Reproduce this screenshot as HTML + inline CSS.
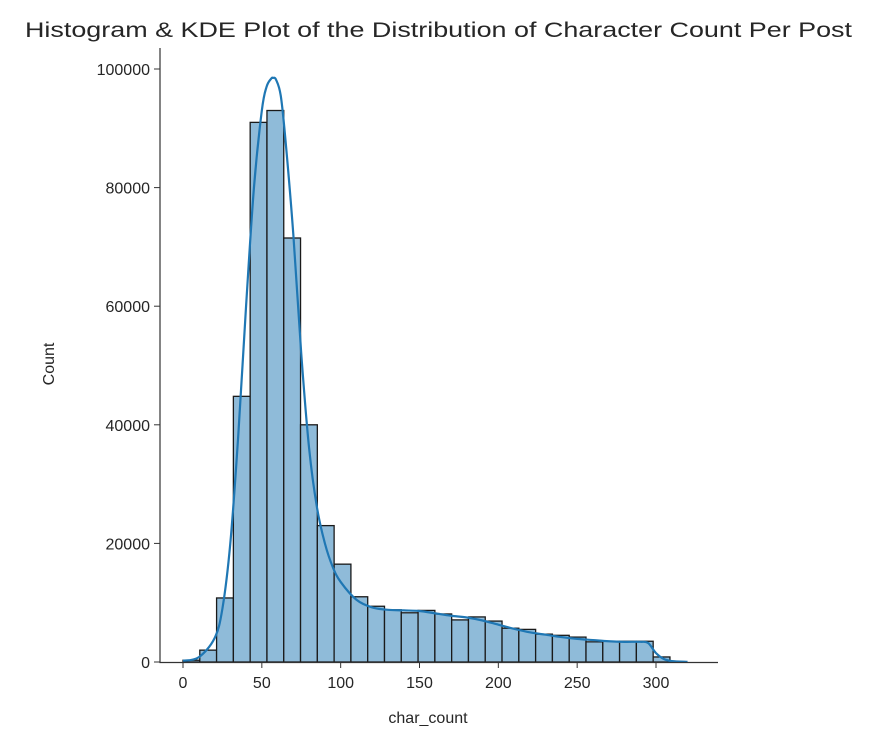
<!DOCTYPE html>
<html><head><meta charset="utf-8"><style>
body{margin:0;background:#fff;width:882px;height:748px;overflow:hidden}
text{font-family:"Liberation Sans","DejaVu Sans",sans-serif;fill:#262626}
</style></head><body>
<svg id="chart" width="882" height="748" xmlns="http://www.w3.org/2000/svg">
<text x="25" y="37" font-size="21" textLength="827" lengthAdjust="spacingAndGlyphs">Histogram &amp; KDE Plot of the Distribution of Character Count Per Post</text>
<g id="bars"></g><g id="kde"></g><g id="axes"></g>
<text x="428" y="723" text-anchor="middle" font-size="16">char_count</text>
<text transform="translate(54,364) rotate(-90)" text-anchor="middle" font-size="16">Count</text>
</svg>
<script>
const binStart = 0;
const binWidth = 10.65;
const counts = [300,2000,10800,44800,91000,93000,71500,40000,23000,16500,11000,9400,8800,8300,8700,8100,7100,7600,6900,5700,5500,4700,4500,4200,3400,3500,3500,3500,850];
const kdeX = [0,10,20,25,30,35,40,45,50,53,56,57,59,62,65,70,75,80,85,90,95,100,110,120,130,140,150,160,170,180,190,200,210,220,230,240,250,260,270,280,290,295,300,305,310,320];
const kdeY = [200,800,4000,9000,20000,38000,60000,80000,93000,97000,98400,98500,98200,95500,88000,72000,52000,36000,26000,20000,16000,13500,10500,9200,8800,8700,8600,8200,7800,7500,7000,6300,5600,5000,4600,4200,3900,3700,3500,3400,3400,3200,1500,500,150,20];
const xTicks = [0,50,100,150,200,250,300];
const yTicks = [0,20000,40000,60000,80000,100000];
const NS="http://www.w3.org/2000/svg";
const X=v=>183+v*(473/300);
const Y=v=>662-v*(593/100000);
function mk(tag,parent){const e=document.createElementNS(NS,tag);document.getElementById(parent).appendChild(e);return e;}
counts.forEach((c,i)=>{
  const r=mk('rect','bars');
  
  
  const x0=X(binStart+i*binWidth),x1=X(binStart+(i+1)*binWidth);
  r.setAttribute('x',x0);r.setAttribute('width',x1-x0);
  r.setAttribute('y',Y(c));r.setAttribute('height',Y(0)-Y(c));
  r.setAttribute('fill','#8fbbd9');r.setAttribute('stroke','#1a1a1a');r.setAttribute('stroke-width','1.3');
});
const pts=kdeX.map((x,i)=>[X(x),Y(kdeY[i])]);
let d='M'+pts[0][0]+' '+pts[0][1];
for(let i=0;i<pts.length-1;i++){
  const p0=pts[i-1]||pts[i],p1=pts[i],p2=pts[i+1],p3=pts[i+2]||p2;
  const c1=[p1[0]+(p2[0]-p0[0])/6,p1[1]+(p2[1]-p0[1])/6],c2=[p2[0]-(p3[0]-p1[0])/6,p2[1]-(p3[1]-p1[1])/6];
  d+=` C${c1[0]} ${c1[1]} ${c2[0]} ${c2[1]} ${p2[0]} ${p2[1]}`;
}
const p=mk('path','kde');


p.setAttribute('d',d);
p.setAttribute('fill','none');p.setAttribute('stroke','#1f77b4');p.setAttribute('stroke-width','2.2');p.setAttribute('stroke-linejoin','round');
const ax=mk('path','axes');


ax.setAttribute('d','M160 48 L160 662.5 L718 662.5');ax.setAttribute('fill','none');ax.setAttribute('stroke','#333');ax.setAttribute('stroke-width','1.2');
xTicks.forEach(t=>{
  const l=mk('line','axes');
  
  
  l.setAttribute('x1',X(t));l.setAttribute('x2',X(t));l.setAttribute('y1',662);l.setAttribute('y2',668);l.setAttribute('stroke','#333');
  const tx=mk('text','axes');
  
  
  tx.setAttribute('x',X(t));tx.setAttribute('y',688);tx.setAttribute('text-anchor','middle');tx.setAttribute('font-size','16');tx.textContent=t;
});
yTicks.forEach(t=>{
  const l=mk('line','axes');
  
  
  l.setAttribute('x1',154);l.setAttribute('x2',160);l.setAttribute('y1',Y(t));l.setAttribute('y2',Y(t));l.setAttribute('stroke','#333');
  const tx=mk('text','axes');
  
  
  tx.setAttribute('x',150);tx.setAttribute('y',Y(t)+6);tx.setAttribute('text-anchor','end');tx.setAttribute('font-size','16');tx.textContent=t;
});
</script>
</body></html>
